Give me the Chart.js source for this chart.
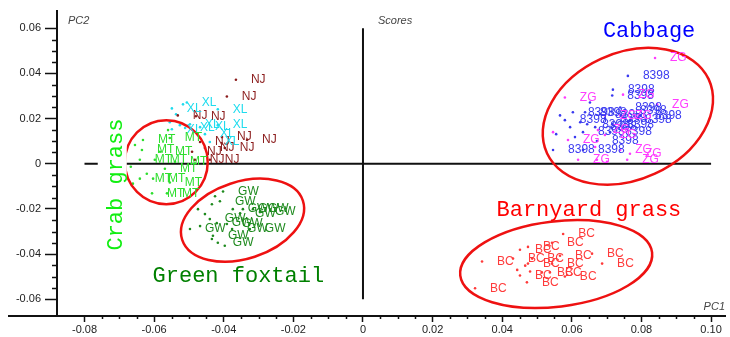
<!DOCTYPE html>
<html>
<head>
<meta charset="utf-8">
<script src="https://cdn.jsdelivr.net/npm/chart.js@4.4.1/dist/chart.umd.min.js"></script>
<style>
  html, body { margin: 0; padding: 0; background: #fff; }
  canvas { display: block; }
</style>
</head>
<body>
<canvas id="scores" width="730" height="337"></canvas>
<script>
// PCA score plot: PC1 vs PC2, labelled samples + confidence ellipses

// tick labels
const xTicks = [-0.08, -0.06, -0.04, -0.02, 0, 0.02, 0.04, 0.06, 0.08, 0.10];
const yTicks = [-0.06, -0.04, -0.02, 0, 0.02, 0.04, 0.06];

// samples [PC1, PC2] that carry a text label
const njPts = [[-0.0365, 0.0372], [-0.0391, 0.0298], [-0.0532, 0.0214], [-0.0480, 0.0210],
  [-0.0333, 0.0105], [-0.0405, 0.0118], [-0.0397, 0.0070], [-0.0468, 0.0096],
  [-0.0491, 0.0053], [-0.0483, 0.0018], [-0.0440, 0.0018], [-0.0454, 0.0070]];
const xlPts = [[-0.0549, 0.0245], [-0.0506, 0.0271], [-0.0417, 0.0241], [-0.0417, 0.0171],
  [-0.0549, 0.0153], [-0.0511, 0.0158], [-0.0468, 0.0162], [-0.0454, 0.0131],
  [-0.0440, 0.0096], [-0.0497, 0.0175]];
const mtPts = [[-0.0632, 0.0105], [-0.0555, 0.0114], [-0.0635, 0.0061], [-0.0583, 0.0053],
  [-0.0641, 0.0018], [-0.0598, 0.0018], [-0.0569, -0.0022], [-0.0641, -0.0066],
  [-0.0603, -0.0066], [-0.0555, -0.0083], [-0.0606, -0.0131], [-0.0563, -0.0131],
  [-0.0540, 0.0009]];
const gwPts = [[-0.0402, -0.0123], [-0.0411, -0.0166], [-0.0374, -0.0201], [-0.0345, -0.0201],
  [-0.0316, -0.0201], [-0.0296, -0.0214], [-0.0440, -0.0245], [-0.0420, -0.0263],
  [-0.0391, -0.0267], [-0.0497, -0.0289], [-0.0376, -0.0289], [-0.0325, -0.0289],
  [-0.0431, -0.0319], [-0.0417, -0.0350], [-0.0353, -0.0219]];
const cbPts = [[0.0761, 0.0389], [0.0718, 0.0328], [0.0716, 0.0302], [0.0739, 0.0249],
  [0.0603, 0.0228], [0.0638, 0.0228], [0.0681, 0.0219], [0.0796, 0.0214],
  [0.0580, 0.0193], [0.0644, 0.0175], [0.0716, 0.0175], [0.0632, 0.0140],
  [0.0672, 0.0101], [0.0546, 0.0061], [0.0632, 0.0061], [0.0695, 0.0201],
  [0.0753, 0.0236], [0.0767, 0.0193], [0.0667, 0.0162], [0.0710, 0.0140]];
const zgPts = [[0.0839, 0.0468], [0.0580, 0.0293], [0.0845, 0.0263], [0.0747, 0.0306],
  [0.0695, 0.0214], [0.0739, 0.0214], [0.0589, 0.0105], [0.0739, 0.0061],
  [0.0618, 0.0018], [0.0759, 0.0018], [0.0675, 0.0149], [0.0695, 0.0127],
  [0.0767, 0.0044]];
const bcPts = [[0.0575, -0.0311], [0.0543, -0.0350], [0.0451, -0.0381], [0.0474, -0.0368],
  [0.0342, -0.0433], [0.0431, -0.0420], [0.0486, -0.0420], [0.0566, -0.0407],
  [0.0658, -0.0398], [0.0687, -0.0442], [0.0543, -0.0442], [0.0474, -0.0442],
  [0.0451, -0.0495], [0.0514, -0.0481], [0.0537, -0.0481], [0.0580, -0.0499],
  [0.0471, -0.0525], [0.0322, -0.0551]];

// samples drawn as a dot only
const xlDots = [[-0.0517, 0.0263], [-0.0537, 0.0219], [-0.0555, 0.0184], [-0.0526, 0.0171]];
const mtDots = [[-0.0655, 0.0083], [-0.0667, -0.0013], [-0.0621, -0.0044], [-0.0560, 0.0149], [-0.0661, -0.0088]];
const gwDots = [[-0.0425, -0.0144], [-0.0454, -0.0223], [-0.0434, -0.0179], [-0.0468, -0.0276],
  [-0.0434, -0.0333], [-0.0397, -0.0363], [-0.0474, -0.0201]];
const cbDots = [[0.0566, 0.0214], [0.0595, 0.0162], [0.0609, 0.0118], [0.0652, 0.0271],
  [0.0624, 0.0184], [0.0555, 0.0131]];
const zgDots = [[0.0546, 0.0140], [0.0701, 0.0009], [0.0672, 0.0018], [0.0667, 0.0074]];
const bcDots = [[0.0466, -0.0451], [0.0443, -0.0470], [0.0480, -0.0477]];

// confidence ellipses: centre and two conjugate semi-axes, in PC units
const ellipseCentres = [[0.0761, 0.0210], [-0.0565, 0.0007], [-0.0346, -0.0250], [0.0555, -0.0444]];
const ellipseAxisA = [[0.0232, 0.01646], [0.0119, 0], [0.01733, 0.00871], [0.02755, 0.00515]];
const ellipseAxisB = [[0.00776, -0.02538], [0, -0.0186], [0.00350, -0.01617], [0.00151, -0.01876]];

// group names written on the plot, anchored at [PC1, PC2]
const groupNames = ["Cabbage", "Barnyard grass", "Green foxtail", "Crab grass"];
const groupNameAt = [[0.0822, 0.0562], [0.0649, -0.0232], [-0.0358, -0.0524], [-0.0693, -0.0092]];

const groups = [
  { name: "NJ", color: "#8b1c1c", pts: njPts, dots: [] },
  { name: "XL", color: "#1fdcee", pts: xlPts, dots: xlDots },
  { name: "MT", color: "#2ede2e", pts: mtPts, dots: mtDots },
  { name: "GW", color: "#1e8a1e", pts: gwPts, dots: gwDots },
  { name: "8398", color: "#3a3af0", pts: cbPts, dots: cbDots },
  { name: "ZG", color: "#ff3cff", pts: zgPts, dots: zgDots },
  { name: "BC", color: "#ff3a3a", pts: bcPts, dots: bcDots },
];
const nameColors = ["#0000ff", "#ff0000", "#008000", "#11ee11"];

const AXIS = "#111";
const fmt = v => (Math.abs(v) < 1e-9 ? "0" : v.toFixed(2));

const zeroLines = {
  id: "zeroLines",
  beforeDatasetsDraw(chart) {
    const { ctx, scales: { x, y } } = chart;
    ctx.save();
    ctx.strokeStyle = AXIS;
    ctx.lineWidth = 2;
    ctx.beginPath();
    ctx.moveTo(x.getPixelForValue(-0.08), y.getPixelForValue(0));
    ctx.lineTo(x.getPixelForValue(0.10), y.getPixelForValue(0));
    ctx.moveTo(x.getPixelForValue(0), y.getPixelForValue(0.06));
    ctx.lineTo(x.getPixelForValue(0), y.getPixelForValue(-0.06));
    ctx.stroke();
    ctx.restore();
  }
};

const ellipses = {
  id: "ellipses",
  afterDatasetsDraw(chart) {
    const { ctx, scales: { x, y } } = chart;
    ctx.save();
    ctx.strokeStyle = "#ee1111";
    ctx.lineWidth = 2.5;
    ellipseCentres.forEach((c, i) => {
      const cx = x.getPixelForValue(c[0]), cy = y.getPixelForValue(c[1]);
      const a = ellipseAxisA[i], b = ellipseAxisB[i];
      const ax = x.getPixelForValue(c[0] + a[0]) - cx, ay = y.getPixelForValue(c[1] + a[1]) - cy;
      const bx = x.getPixelForValue(c[0] + b[0]) - cx, by = y.getPixelForValue(c[1] + b[1]) - cy;
      ctx.save();
      ctx.beginPath();
      ctx.transform(ax, ay, bx, by, cx, cy);
      ctx.arc(0, 0, 1, 0, Math.PI * 2);
      ctx.restore();
      ctx.stroke();
    });
    ctx.restore();
  }
};

const pointLabels = {
  id: "pointLabels",
  afterDatasetsDraw(chart) {
    const { ctx } = chart;
    ctx.save();
    ctx.font = '12px "Liberation Sans", Arial, sans-serif';
    ctx.textBaseline = "middle";
    chart.data.datasets.forEach((ds, i) => {
      const meta = chart.getDatasetMeta(i);
      ctx.fillStyle = ds.backgroundColor;
      meta.data.forEach((el, j) => {
        if (ds.data[j].lab) ctx.fillText(ds.label, el.x + 15, el.y);
      });
    });
    ctx.restore();
  }
};

const decorations = {
  id: "decorations",
  afterDraw(chart) {
    const { ctx, chartArea: a, scales: { x, y } } = chart;
    ctx.save();
    // minor ticks
    ctx.strokeStyle = AXIS;
    ctx.lineWidth = 1.5;
    ctx.beginPath();
    for (let i = -16; i <= 20; i++) {
      if (i % 4 === 0) continue;
      const px = Math.round(x.getPixelForValue(i * 0.005)) + 0.5;
      ctx.moveTo(px, a.bottom); ctx.lineTo(px, a.bottom + 3);
    }
    for (let i = -12; i <= 12; i++) {
      if (i % 4 === 0) continue;
      const py = Math.round(y.getPixelForValue(i * 0.005)) + 0.5;
      ctx.moveTo(a.left - 5, py); ctx.lineTo(a.left, py);
    }
    ctx.stroke();
    // bottom axis runs on past the left axis
    ctx.lineWidth = 2;
    ctx.beginPath();
    ctx.moveTo(8, a.bottom); ctx.lineTo(a.left, a.bottom);
    ctx.stroke();

    // axis captions
    ctx.fillStyle = "#444";
    ctx.font = 'italic 11px "Liberation Sans", Arial, sans-serif';
    ctx.textBaseline = "middle";
    ctx.fillText("PC2", a.left + 11, a.top + 10);
    ctx.fillText("Scores", x.getPixelForValue(0) + 15, a.top + 10);
    ctx.textAlign = "right";
    ctx.fillText("PC1", a.right, a.bottom - 9);

    // group names
    ctx.font = '22px "Liberation Mono", monospace';
    ctx.textAlign = "center";
    ctx.textBaseline = "alphabetic";
    groupNames.forEach((t, i) => {
      const px = x.getPixelForValue(groupNameAt[i][0]);
      const py = y.getPixelForValue(groupNameAt[i][1]);
      ctx.fillStyle = nameColors[i];
      if (i === 3) {
        ctx.save();
        ctx.translate(px, py);
        ctx.rotate(-Math.PI / 2);
        const w = ctx.measureText(t).width;
        ctx.fillStyle = "#fff";
        ctx.fillRect(-w / 2 - 4, -24, w + 8, 29);
        ctx.fillStyle = nameColors[i];
        ctx.fillText(t, 0, 0);
        ctx.restore();
      } else {
        ctx.fillText(t, px, py);
      }
    });
    ctx.restore();
  }
};

const datasets = groups.map(g => ({
  label: g.name,
  data: g.pts.map(p => ({ x: p[0], y: p[1], lab: true }))
    .concat(g.dots.map(p => ({ x: p[0], y: p[1], lab: false }))),
  backgroundColor: g.color,
  pointRadius: 1.3,
  pointBorderWidth: 0,
}));

const tickFont = { family: '"Liberation Sans", Arial, sans-serif', size: 11 };

new Chart(document.getElementById("scores"), {
  type: "scatter",
  data: { datasets },
  options: {
    responsive: false,
    animation: false,
    layout: { padding: { top: 7, right: 5, left: 0, bottom: 0 } },
    plugins: { legend: { display: false }, tooltip: { enabled: false } },
    scales: {
      x: {
        type: "linear",
        min: -0.0879,
        max: 0.1040,
        afterBuildTicks: s => { s.ticks = xTicks.map(v => ({ value: v })); },
        afterFit: s => { s.height = 21; },
        grid: { drawOnChartArea: false, tickLength: 6, tickColor: AXIS, tickWidth: 1.5 },
        border: { color: AXIS, width: 2 },
        ticks: { padding: 1, color: "#222", font: tickFont, maxRotation: 0, autoSkip: false, callback: fmt },
      },
      y: {
        type: "linear",
        min: -0.0674,
        max: 0.0678,
        afterBuildTicks: s => { s.ticks = yTicks.map(v => ({ value: v })); },
        afterFit: s => { s.width = 57; },
        grid: { drawOnChartArea: false, tickLength: 12, tickColor: AXIS, tickWidth: 1.5 },
        border: { color: AXIS, width: 2 },
        ticks: { padding: 4, color: "#222", font: tickFont, autoSkip: false, callback: fmt },
      },
    },
  },
  plugins: [zeroLines, ellipses, pointLabels, decorations],
});
</script>
</body>
</html>
